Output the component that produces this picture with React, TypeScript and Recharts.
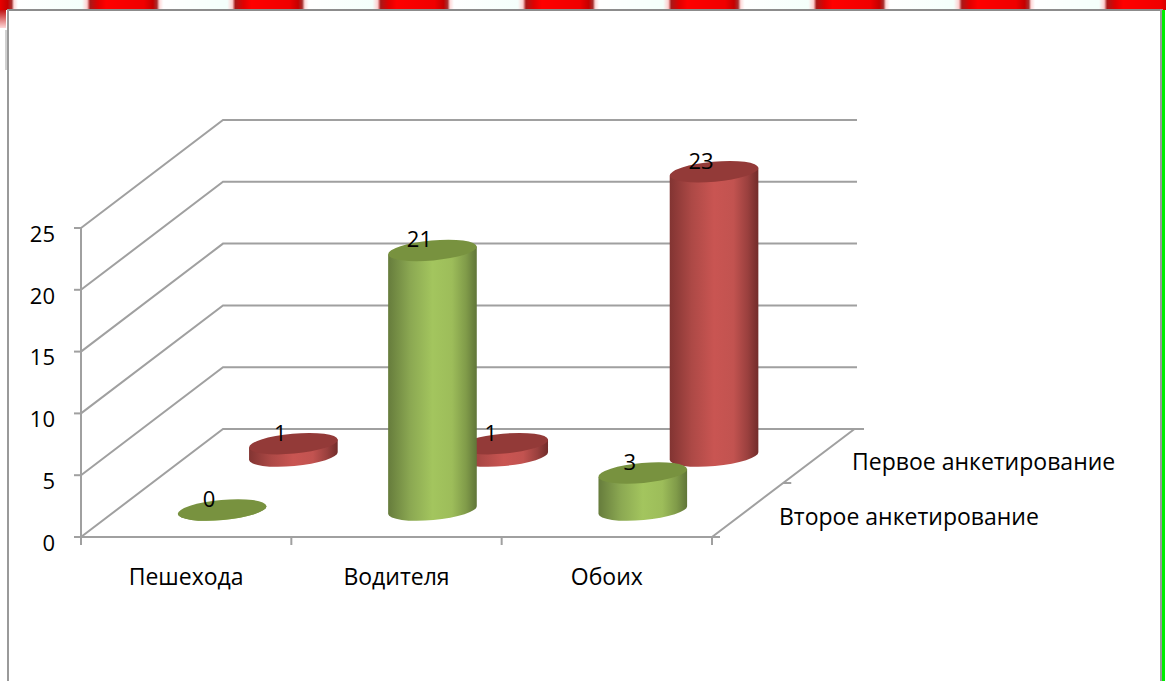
import React from "react";
import { BarChart, Bar, XAxis, YAxis, CartesianGrid, LabelList } from "recharts";

const categories = ["Пешехода", "Водителя", "Обоих"];
const firstSurvey = [1, 1, 23];
const secondSurvey = [0, 21, 3];
const depthLabels = ["Первое анкетирование", "Второе анкетирование"];
const valueTicks = [0, 5, 10, 15, 20, 25];

const data = categories.map((name, i) => ({
  name,
  first: firstSurvey[i],
  second: secondSurvey[i],
}));

const FONT = "'Open Sans', sans-serif";
const GRID = "#a0a0a0";
const FLOOR_Y = 537;
// the full depth of the fake 3d box, the two rows of bars sit at 1/4 and 3/4 of it
const DEPTH_X = 142.5;
const DEPTH_Y = 108;
const RX = 44.5;
const RY = 10;
const TILT = -5.2;

function cylinder(row: number, sideFill: string, topFill: string) {
  return (props: any) => {
    const { x, y, width, height } = props;
    const cx = x + width / 2 + DEPTH_X * row;
    const top = y - DEPTH_Y * row;
    const base = top + height;
    const rad = (TILT * Math.PI) / 180;
    const ex = RX * Math.cos(rad);
    const ey = RX * Math.sin(rad);
    const side = `M${cx - ex},${top - ey} L${cx - ex},${base - ey} A${RX},${RY} ${TILT} 0 0 ${cx + ex},${base + ey} L${cx + ex},${top + ey} Z`;
    return (
      <g>
        <path d={side} fill={sideFill} />
        <ellipse cx={cx} cy={top} rx={RX} ry={RY} fill={topFill} transform={`rotate(${TILT} ${cx} ${top})`} />
      </g>
    );
  };
}

function valueLabel(row: number) {
  return (props: any) => {
    const { x, y, width, value } = props;
    return (
      <text
        x={x + width / 2 + DEPTH_X * row - 13}
        y={y - DEPTH_Y * row - 3}
        textAnchor="middle"
        fontFamily={FONT}
        fontSize={22}
        fill="#000"
      >
        {value}
      </text>
    );
  };
}

// every grid line is drawn on the back wall, with a diagonal on the side wall
function gridLine(props: any) {
  const { x1, x2, y1 } = props;
  const isFloor = Math.abs(y1 - FLOOR_Y) < 1;
  return (
    <g key={`grid-${y1}`} stroke={GRID} strokeWidth={2} fill="none">
      <path d={`M${x1},${y1} L${x1 + DEPTH_X - 0.5},${y1 - DEPTH_Y} L${x2 + (isFloor ? 152 : 145)},${y1 - DEPTH_Y}`} />
      {isFloor && (
        <path
          d={`M${x2},${y1} L${x2 + DEPTH_X},${y1 - DEPTH_Y} M${x2},${y1} L${x2 + 8},${y1} M${x2 + DEPTH_X / 2},${y1 - DEPTH_Y / 2} L${x2 + DEPTH_X / 2 + 8},${y1 - DEPTH_Y / 2}`}
        />
      )}
    </g>
  );
}

function CategoryTick(props: any) {
  const { x, y, payload, width, index } = props;
  const band = width / categories.length;
  return (
    <g>
      <line x1={x - band / 2} x2={x - band / 2} y1={FLOOR_Y} y2={FLOOR_Y + 8} stroke={GRID} strokeWidth={2} />
      {index === categories.length - 1 && (
        <line x1={x + band / 2} x2={x + band / 2} y1={FLOOR_Y} y2={FLOOR_Y + 8} stroke={GRID} strokeWidth={2} />
      )}
      <text x={x} y={y + 40} textAnchor="middle" fontFamily={FONT} fontSize={23} fill="#000">
        {payload.value}
      </text>
    </g>
  );
}

function gradient(id: string, stops: string[]) {
  const offsets = [0, 25, 50, 72, 88, 100];
  return (
    <linearGradient id={id} x1="0" y1="0" x2="1" y2="0">
      {stops.map((c, i) => (
        <stop key={i} offset={`${offsets[i]}%`} stopColor={c} />
      ))}
    </linearGradient>
  );
}

const checker =
  "linear-gradient(90deg, #ffd8d8 0px, #fff 4px, #f4fffb 68px, #ffd0d0 73px, #a81818 76px, #e00000 84px, #ff0000 92px, #f00000 130px, #c40000 139px, #a83030 143px, #ffd8d8 145.3px)";

export default function App() {
  return (
    <div style={{ position: "absolute", left: 0, top: 0, width: 1166, height: 681, overflow: "hidden", background: "#fff" }}>
      <div style={{ position: "absolute", left: 0, top: 0, width: 1166, height: 10, background: checker, backgroundSize: "145.3px 10px", backgroundPosition: "14px 0" }} />
      <div style={{ position: "absolute", left: 0, top: 10, width: 6, height: 18, background: "linear-gradient(180deg, #c01010, #ffd8d8)" }} />
      <div style={{ position: "absolute", left: 5, top: 30, width: 2, height: 40, background: "#d0d0d0" }} />
      <div style={{ position: "absolute", left: 7, top: 9, width: 1155, height: 2, background: "#8c8c8c" }} />
      <div style={{ position: "absolute", left: 7, top: 9, width: 2, height: 672, background: "#9a9a9a" }} />
      <div style={{ position: "absolute", left: 1160, top: 9, width: 3, height: 672, background: "#9a9a9a" }} />
      <div style={{ position: "absolute", left: 1162, top: 10, width: 3, height: 671, background: "#00ee00" }} />
      <div style={{ position: "absolute", left: 0, top: 0 }}>
        <BarChart
          width={1166}
          height={681}
          data={data}
          barSize={89}
          barGap={-89}
          margin={{ top: 228, right: 454, bottom: 84, left: 21 }}
        >
          <defs>
            {gradient("redSide", ["#823432", "#ad4946", "#c95552", "#c25350", "#9a403e", "#722c2a"])}
            {gradient("greenSide", ["#667c3c", "#8ba852", "#a3c55e", "#9dbd5a", "#809b49", "#607538"])}
          </defs>
          <CartesianGrid vertical={false} horizontal={gridLine} />
          <XAxis
            dataKey="name"
            height={60}
            tickLine={false}
            axisLine={{ stroke: GRID, strokeWidth: 2 }}
            tick={CategoryTick}
            interval={0}
          />
          <YAxis
            width={60}
            domain={[0, 25]}
            ticks={valueTicks}
            tickSize={7}
            tickMargin={19}
            axisLine={{ stroke: GRID, strokeWidth: 2 }}
            tickLine={{ stroke: GRID, strokeWidth: 2 }}
            tick={{ fontFamily: FONT, fontSize: 22, fill: "#000", dy: 6 }}
          />
          <Bar dataKey="first" isAnimationActive={false} shape={cylinder(0.75, "url(#redSide)", "#933a38")}>
            <LabelList dataKey="first" content={valueLabel(0.75)} />
          </Bar>
          <Bar dataKey="second" isAnimationActive={false} shape={cylinder(0.25, "url(#greenSide)", "#78923f")}>
            <LabelList dataKey="second" content={valueLabel(0.25)} />
          </Bar>
          <text x={852} y={470} fontFamily={FONT} fontSize={23} fill="#000">
            {depthLabels[0]}
          </text>
          <text x={779} y={525} fontFamily={FONT} fontSize={23} fill="#000">
            {depthLabels[1]}
          </text>
        </BarChart>
      </div>
    </div>
  );
}
